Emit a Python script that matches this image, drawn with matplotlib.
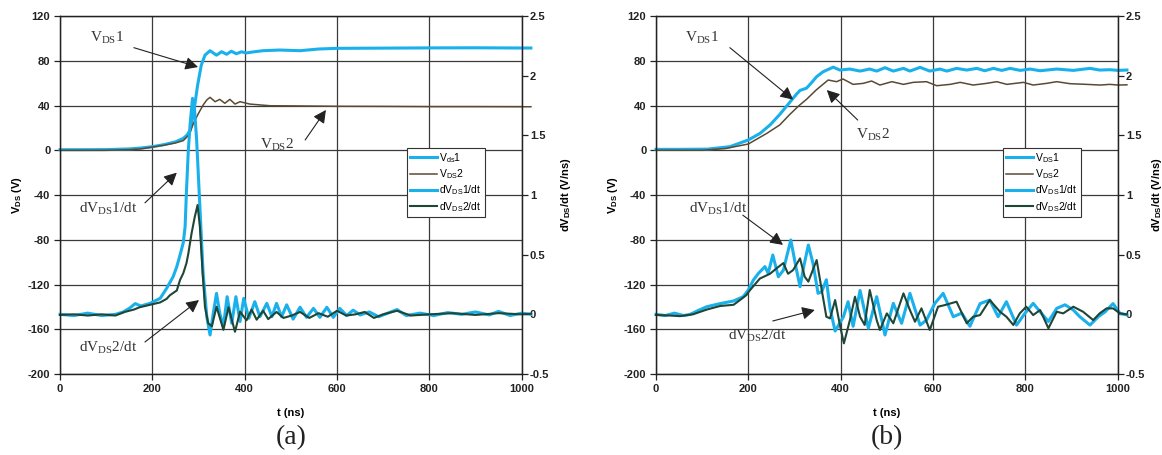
import matplotlib
matplotlib.use("Agg")
import matplotlib.pyplot as plt

plt.rcParams['font.family'] = 'Liberation Sans'
plt.rcParams['mathtext.fontset'] = 'custom'
plt.rcParams['mathtext.rm'] = 'Liberation Serif'
plt.rcParams['mathtext.sf'] = 'Liberation Sans'
plt.rcParams['mathtext.bf'] = 'Liberation Sans:bold'
plt.rcParams['axes.unicode_minus'] = False

#----------
## Data (t in ns, V_DS in V, dV/dt in V/ns)
#----------

# (a) V_DS1
t_a_vds1 = [0, 50, 100, 150, 175, 200, 225, 250, 267, 275, 282, 290, 298, 306, 314, 325, 339, 350, 361,
            371, 382, 393, 404, 420, 440, 476, 520, 560, 600, 700, 800, 900, 1000, 1020]
a_vds1 = [0.5, 0.5, 0.6, 1.2, 2.0, 3.2, 5.0, 7.5, 10.6, 13.5, 18, 35, 58, 76, 85, 89, 85.0, 88.1, 85.8,
          88.5, 86.3, 88.0, 87.0, 88.0, 89.0, 89.6, 89.0, 90.5, 91.1, 91.3, 91.5, 91.6, 91.4, 91.4]

# (a) V_DS2
t_a_vds2 = [0, 50, 100, 150, 175, 195, 225, 250, 267, 280, 289, 300, 310, 318, 325, 336, 346, 357, 368,
            379, 390, 411, 455, 520, 600, 700, 800, 900, 1000, 1020]
a_vds2 = [0, 0, 0, 0.5, 1.2, 2.5, 4.5, 6.5, 8.6, 14, 24, 33, 40.4, 45, 47.3, 43.4, 45.5, 42, 45.5,
          41.3, 43.4, 41.3, 39.8, 39.6, 39.3, 39.2, 39, 39, 38.9, 38.9]

# (a) dV_DS1/dt
t_a_dv1 = [0, 30, 60, 90, 120, 137, 150, 163, 175, 195, 217, 231, 245, 253, 260, 267, 271, 274, 278,
           282, 287, 291, 296, 303, 310, 318, 325, 332, 339, 346, 354, 362, 372, 381, 390, 398, 409,
           422, 433, 448, 459, 469, 480, 491, 505, 520, 534, 549, 563, 578, 592, 606, 621, 635, 650,
           670, 690, 710, 730, 750, 780, 810, 840, 870, 900, 930, 950, 975, 1000, 1020]
a_dv1 = [0.0, -0.01, 0.01, -0.01, 0.0, 0.02, 0.05, 0.09, 0.07, 0.092, 0.134, 0.218, 0.315, 0.40, 0.497,
         0.60, 0.734, 1.04, 1.377, 1.60, 1.81, 1.74, 1.46, 0.90, 0.344, -0.02, -0.173, 0.01, 0.176,
         0.01, -0.10, 0.148, -0.075, 0.148, -0.06, 0.134, -0.033, 0.106, -0.02, 0.092, -0.02, 0.092,
         -0.02, 0.08, -0.04, 0.06, -0.025, 0.05, -0.025, 0.059, -0.025, 0.05, -0.01, 0.035, -0.005,
         0.02, -0.02, 0.01, 0.04, -0.01, 0.01, -0.01, 0.015, 0.0, 0.02, -0.005, 0.025, -0.01, 0.01, 0.0]

# (a) dV_DS2/dt
t_a_dv2 = [0, 30, 60, 90, 120, 140, 160, 173, 195, 217, 231, 238, 253, 260, 267, 274, 278, 285, 292,
           298, 303, 309, 314, 321, 329, 339, 354, 365, 379, 390, 404, 415, 426, 440, 451, 469, 484,
           502, 520, 540, 560, 580, 600, 620, 640, 660, 680, 700, 730, 760, 800, 850, 900, 950, 1000, 1020]
a_dv2 = [-0.005, 0.0, -0.01, 0.0, -0.01, 0.02, 0.04, 0.06, 0.08, 0.10, 0.13, 0.16, 0.20, 0.288, 0.344,
         0.43, 0.51, 0.679, 0.818, 0.916, 0.734, 0.344, 0.064, -0.075, -0.10, 0.064, -0.13, 0.06,
         -0.146, 0.022, -0.05, 0.04, -0.045, 0.03, -0.04, 0.02, -0.03, -0.01, 0.02, -0.03, 0.01, -0.02,
         0.03, -0.01, 0.0, 0.02, -0.03, 0.0, 0.03, -0.01, 0.0, 0.01, -0.005, 0.01, 0.0, 0.005]

# (b) V_DS1
t_b_vds1 = [0, 50, 111, 160, 200, 225, 247, 268, 290, 305, 312, 326, 336, 348, 362, 384, 398, 420, 442,
            463, 478, 496, 514, 536, 550, 572, 593, 615, 630, 651, 673, 695, 712, 731, 749, 767, 789,
            810, 832, 868, 904, 940, 961, 983, 1001, 1020]
b_vds1 = [0.8, 0.8, 1.0, 3.2, 9.2, 15, 22.6, 32, 43, 50.5, 53.5, 55.5, 60, 65.8, 70.2, 74.3, 71.7, 72.6,
          70.8, 72.6, 70.8, 73.8, 70.8, 73.2, 70.8, 74.1, 70.8, 72.6, 70.8, 73.2, 71.7, 73.2, 71.1,
          73.2, 71.4, 73.2, 71.4, 72.6, 71.1, 72.6, 71.4, 73.2, 71.7, 72.0, 71.4, 71.7]

# (b) V_DS2
t_b_vds2 = [0, 100, 150, 200, 240, 268, 290, 310, 326, 347, 373, 391, 405, 427, 449, 467, 485, 511, 536,
            557, 586, 608, 637, 659, 687, 716, 738, 760, 796, 817, 846, 868, 897, 933, 962, 983, 1001, 1020]
b_vds2 = [0, 0, 1.5, 5.6, 15.1, 22.6, 32.1, 40, 45.5, 53.9, 62.8, 61.3, 63.7, 58.9, 59.8, 61.9, 58.3,
          61.3, 58.9, 60.7, 61.3, 57.7, 58.9, 60.7, 58.3, 59.8, 61.3, 58.9, 60.7, 58.3, 59.8, 61.3,
          59.5, 58.9, 58.3, 58.9, 58.3, 58.5]

# (b) dV_DS1/dt
t_b_dv1 = [0, 20, 40, 60, 74, 90, 110, 139, 168, 189, 200, 211, 222, 236, 243, 253, 265, 276, 283, 292,
           303, 312, 320, 330, 340, 351, 359, 369, 377, 388, 397, 406, 416, 427, 442, 460, 478, 496,
           514, 532, 550, 572, 586, 604, 622, 644, 662, 680, 702, 723, 741, 759, 781, 799, 817, 835,
           850, 868, 886, 904, 918, 940, 958, 973, 990, 1005, 1020]
b_dv1 = [0.0, -0.01, 0.01, -0.01, 0.0, 0.03, 0.064, 0.09, 0.112, 0.148, 0.204, 0.288, 0.344, 0.40, 0.344,
         0.497, 0.315, 0.37, 0.483, 0.623, 0.399, 0.232, 0.40, 0.581, 0.428, 0.176, 0.19, 0.29, 0.05,
         -0.14, -0.08, -0.02, 0.106, -0.10, 0.20, -0.117, 0.148, -0.173, 0.092, -0.075, 0.176, -0.09,
         -0.048, 0.092, 0.176, -0.02, 0.01, -0.10, 0.09, 0.12, -0.02, 0.106, -0.09, 0.008, 0.092,
         0.008, -0.06, 0.05, 0.08, 0.036, -0.02, -0.09, -0.02, 0.022, 0.09, 0.008, -0.005]

# (b) dV_DS2/dt
t_b_dv2 = [0, 30, 52, 80, 110, 139, 168, 182, 196, 203, 225, 247, 261, 276, 286, 297, 312, 322, 330,
           348, 359, 369, 377, 388, 399, 407, 420, 431, 442, 452, 463, 478, 485, 500, 514, 536, 550,
           561, 575, 593, 611, 626, 651, 673, 687, 702, 723, 745, 759, 774, 788, 802, 817, 832, 850,
           868, 882, 904, 925, 947, 961, 976, 990, 1005, 1020]
b_dv2 = [-0.005, -0.01, -0.015, 0.0, 0.04, 0.07, 0.08, 0.12, 0.162, 0.20, 0.30, 0.34, 0.385, 0.43, 0.34,
         0.371, 0.469, 0.316, 0.274, 0.455, 0.204, -0.02, -0.034, 0.12, -0.103, -0.243, -0.048, 0.148,
         -0.02, -0.089, 0.204, -0.048, -0.131, 0.008, -0.075, 0.176, 0.036, -0.062, 0.05, -0.131,
         0.064, 0.078, 0.106, -0.075, -0.02, -0.006, 0.12, 0.022, -0.02, -0.089, 0.008, 0.064, -0.006,
         0.036, -0.117, 0.022, 0.008, 0.064, 0.022, -0.048, 0.008, 0.05, 0.05, 0.008, 0.0]

# axis ticks
x_ticks = [0, 200, 400, 600, 800, 1000]
y_ticks = [-200, -160, -120, -80, -40, 0, 40, 80, 120]
y2_ticks = [-0.5, 0, 0.5, 1, 1.5, 2, 2.5]

legend_a = ['V$_{\\mathsf{ds}}$1', 'V$_{\\mathsf{DS}}$2', 'dV$_{\\mathsf{DS}}$1/dt', 'dV$_{\\mathsf{DS}}$2/dt']
legend_b = ['V$_{\\mathsf{DS}}$1', 'V$_{\\mathsf{DS}}$2', 'dV$_{\\mathsf{DS}}$1/dt', 'dV$_{\\mathsf{DS}}$2/dt']

#----------
## Styles and annotation layout
#----------

BLUE = '#1AB0EC'
BROWN = '#5A4A33'
GREEN = '#1F4636'
GRID = '#3a3a3a'

# (label, text centre, arrow tail, arrow head) in (t, V) coordinates
notes_a = [
    ('V$_{\\mathrm{DS}}$1', (102, 100.6), (160, 91.7), (299, 74.4)),
    ('V$_{\\mathrm{DS}}$2', (470, 4.7), (531, 9.2), (576, 36)),
    ('dV$_{\\mathrm{DS}}$1/dt', (104, -52.6), (184, -47), (253, -20)),
    ('dV$_{\\mathrm{DS}}$2/dt', (104, -176), (184, -171.4), (301, -133.9)),
]
notes_b = [
    ('V$_{\\mathrm{DS}}$1', (100, 100.6), (160, 91.7), (297, 45.3)),
    ('V$_{\\mathrm{DS}}$2', (470, 13.6), (437, 27), (370, 53.8)),
    ('dV$_{\\mathrm{DS}}$1/dt', (134, -52.6), (188, -58), (275, -84.6)),
    ('dV$_{\\mathrm{DS}}$2/dt', (219, -166), (253, -152.6), (344, -142.8)),
]

fig = plt.figure(figsize=(11.62, 4.55), dpi=100)


def draw_panel(left, tag, series, names, notes, right_pad):
    ax = fig.add_axes([left, 0.178, 0.3973, 0.7868])
    ax2 = ax.twinx()

    (tv1, v1), (tv2, v2), (td1, d1), (td2, d2) = series
    h1, = ax.plot(tv1, v1, color=BLUE, lw=2.2, clip_on=False)
    h2, = ax.plot(tv2, v2, color=BROWN, lw=1.1, clip_on=False)
    h3, = ax2.plot(td1, d1, color=BLUE, lw=2.2, clip_on=False)
    h4, = ax2.plot(td2, d2, color=GREEN, lw=1.5, clip_on=False)

    ax.set_xlim(0, 1000)
    ax.set_ylim(-200, 120)
    ax2.set_ylim(-0.5, 2.5)

    ax.set_xticks(x_ticks, labels=[str(v) for v in x_ticks], fontweight='bold', fontsize=8)
    ax.set_yticks(y_ticks, labels=[str(v) for v in y_ticks], fontweight='bold', fontsize=8)
    ax2.set_yticks(y2_ticks, labels=[f'{v:g}' for v in y2_ticks], fontweight='bold', fontsize=8)
    ax.tick_params(direction='out', length=4, width=0.9, pad=3, colors='#222')
    ax2.tick_params(direction='out', length=4, width=0.9, pad=2, colors='#222')

    ax.grid(True, color=GRID, lw=0.9)
    for a in (ax, ax2):
        for s in a.spines.values():
            s.set_color('#222')
            s.set_linewidth(0.9)

    ax.set_xlabel('t (ns)', fontweight='bold', fontsize=8, labelpad=10)
    ax.set_ylabel('V$_{\\mathbf{DS}}$ (V)', fontweight='bold', fontsize=8, labelpad=3)
    ax2.set_ylabel('dV$_{\\mathbf{DS}}$/dt (V/ns)', fontweight='bold', fontsize=8, labelpad=right_pad)

    leg = ax2.legend([h1, h2, h3, h4], names, loc='upper left', bbox_to_anchor=(0.751, 0.632),
                     borderaxespad=0, fancybox=False, framealpha=1, edgecolor='#333',
                     fontsize=7.5, handlelength=2.6, handletextpad=0.2, borderpad=0.3,
                     labelspacing=0.25)
    leg.get_frame().set_linewidth(0.8)

    for label, txt, tail, head in notes:
        ax.text(txt[0], txt[1], label, ha='center', va='center', family='Liberation Serif',
                fontsize=11, color='#333')
        ax.annotate('', xy=head, xytext=tail,
                    arrowprops=dict(arrowstyle='-|>,head_length=0.55,head_width=0.28',
                                    mutation_scale=14, color='#222', lw=0.8, shrinkA=0, shrinkB=0))

    fig.text(left + 0.3973 / 2, 1 - 438 / 455, tag, ha='center', va='center',
             family='Liberation Serif', fontsize=20, color='#222')


draw_panel(60 / 1162, '(a)',
           [(t_a_vds1, a_vds1), (t_a_vds2, a_vds2), (t_a_dv1, a_dv1), (t_a_dv2, a_dv2)],
           legend_a, notes_a, 7)
draw_panel(656 / 1162, '(b)',
           [(t_b_vds1, b_vds1), (t_b_vds2, b_vds2), (t_b_dv1, b_dv1), (t_b_dv2, b_dv2)],
           legend_b, notes_b, 3)

fig.savefig('out.png', dpi=100)
